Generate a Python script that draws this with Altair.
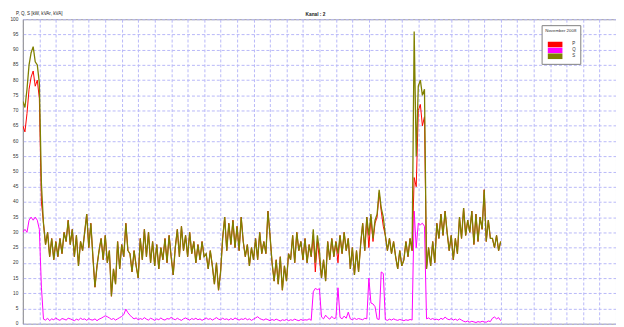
import altair as alt
import pandas as pd

# S (apparent power), sampled every 0.125 grid units
S = [73, 71, 77, 85, 89, 91, 86, 85, 79, 46,
     33, 26, 30, 22, 28,
     21, 27, 22, 28, 23,
     30, 27, 34, 26, 31,
     22, 29, 19, 27, 24,
     30, 36, 25, 33, 22,
     12, 19, 24,
     28, 21, 29, 20,
     24, 9, 18, 13,
     27, 18, 26,
     22, 33, 24,
     23, 17, 24, 19, 15,
     28, 21, 31, 22,
     30, 20, 27,
     19, 26, 18, 25, 21,
     28, 20, 29, 22,
     16, 25, 31, 22, 32, 24,
     29, 22, 30, 23, 27,
     20, 26, 21, 27, 22,
     23, 18, 24, 19,
     13, 20, 11, 17,
     28, 35, 24, 33,
     26, 34, 25, 32, 24, 35, 27,
     22, 26, 19, 25, 21,
     28, 21, 30, 23,
     27, 23, 37, 29,
     20, 14, 21, 13,
     22, 11, 19, 14, 23,
     21, 29, 20, 30, 24,
     27, 21, 28, 20, 26, 22,
     31, 20, 29, 24,
     15, 21, 14,
     27, 21, 28, 22, 27, 23,
     29, 23, 30, 24, 28,
     18, 25, 16, 24, 17, 26,
     33, 24, 35,
     29, 36, 28, 34,
     36, 44, 38, 35,
     29, 24, 28, 23, 27,
     22, 18, 24, 19, 21,
     27, 22, 28, 24,
     96, 55, 78, 80, 75, 77,
     18, 25, 19, 27, 20,
     33, 28, 36, 29, 37, 30,
     24, 29, 21, 28, 23,
     35, 28, 38, 29, 34,
     30, 37, 26, 36, 27, 35,
     31, 44,
     27, 34, 28,
     28, 25, 29, 24, 27]

P = [65, 63, 69, 77, 81, 83, 78, 80, 74, 40,
     33, 26, 30, 22, 28,
     21, 27, 22, 28, 23,
     30, 27, 34, 26, 31,
     22, 29, 19, 27, 24,
     30, 36, 25, 33, 22,
     12, 19, 24,
     28, 21, 29, 20,
     24, 9, 18, 13,
     27, 18, 26,
     22, 33, 24,
     23, 17, 24, 19, 15,
     28, 21, 31, 22,
     30, 20, 27,
     19, 26, 18, 25, 21,
     28, 20, 29, 22,
     16, 25, 31, 22, 32, 24,
     29, 22, 30, 23, 27,
     20, 26, 21, 27, 22,
     23, 18, 24, 19,
     13, 20, 11, 17,
     28, 35, 24, 33,
     26, 34, 25, 32, 24, 35, 27,
     22, 26, 19, 25, 21,
     28, 21, 30, 23,
     27, 23, 37, 29,
     20, 14, 21, 13,
     22, 11, 19, 14, 23,
     21, 29, 20, 30, 24,
     27, 21, 28, 20, 26, 22,
     29, 17, 27, 21,
     15, 21, 14,
     27, 21, 28, 22, 27, 20,
     29, 23, 30, 24, 28,
     18, 25, 16, 24, 17, 26,
     33, 24, 35,
     25, 35, 27, 33,
     35, 43, 37, 32,
     29, 24, 28, 23, 27,
     22, 18, 24, 19, 21,
     27, 22, 28, 24,
     48, 45, 70, 72, 65, 68,
     18, 25, 19, 27, 20,
     33, 28, 36, 29, 37, 30,
     24, 29, 21, 28, 23,
     35, 28, 38, 29, 34,
     30, 37, 26, 36, 27, 35,
     31, 44,
     27, 34, 28,
     28, 25, 29, 24, 27]

Q = [30, 31, 30, 34, 35, 34, 35, 34, 31, 12,
     1.5, 1.2, 1.8, 1.0, 1.6,
     1.3, 1.9, 1.4, 1.1, 1.7,
     1.5, 1.2, 1.8, 1.6, 1.3,
     1.0, 1.5, 1.2, 1.8, 1.4,
     1.6, 1.1, 1.7, 1.3, 1.2,
     1.6, 1.0, 1.5,
     1.8, 2.2, 2.6, 2.3,
     1.9, 1.4, 1.7, 1.2,
     1.6, 2.0, 2.4,
     3.0, 4.8, 3.6,
     2.8, 2.1, 1.6, 1.9, 1.3,
     1.7, 1.4, 2.0, 1.5,
     1.2, 1.8, 1.5,
     1.1, 1.6, 1.3, 1.9, 1.4,
     1.2, 1.7, 1.5, 2.1,
     1.6, 1.3, 1.8, 1.4, 1.1, 1.6,
     1.9, 1.5, 1.2, 1.7, 1.4,
     1.8, 1.3, 1.6, 1.1, 1.5,
     1.9, 1.4, 1.7, 1.2,
     1.6, 2.0, 1.5, 1.3,
     1.8, 1.4, 1.6, 1.2,
     1.7, 1.3, 1.9, 1.5, 1.2, 1.6, 1.4,
     1.8, 1.3, 1.6, 1.1, 1.5,
     1.9, 2.3, 1.7, 1.4,
     1.2, 1.6, 1.3, 1.0,
     1.4, 1.1, 1.5, 1.2,
     0.9, 1.3, 1.1, 1.4, 1.0,
     1.3, 1.1, 1.5, 1.2, 1.0,
     1.4, 1.1, 1.3, 1.2, 1.6, 1.1,
     10.5, 11.6, 11.2, 11.5,
     2.2, 1.6, 2.8,
     2.0, 1.5, 2.4, 1.7, 1.9, 11.8,
     2.1, 1.6, 2.5, 1.8, 3.8,
     1.6, 1.3, 1.8, 1.4, 1.7, 1.5,
     1.3, 1.8, 1.6,
     15.0, 6.8, 6.5, 5.6,
     1.6, 1.4, 17.0, 16.5,
     1.4, 1.1, 1.5, 1.2, 1.6,
     1.3, 1.1, 1.4, 1.2, 1.0,
     1.3, 1.1, 1.4, 1.2,
     37, 25, 33, 32.5, 33, 32,
     1.6, 1.9, 1.4, 1.7, 1.3,
     1.5, 1.2, 1.8, 1.4, 2.2, 1.6,
     1.3, 1.7, 1.2, 1.5, 1.1,
     1.6, 1.2, 0.8, 0.6, 0.9,
     0.5, 0.8, 0.6, 0.4, 0.7, 0.5,
     0.8, 0.6,
     0.5, 0.9, 0.7,
     1.8, 2.2, 1.6, 2.0, 1.0]

STEP = 0.125
t = [i * STEP for i in range(len(S))]

series_names = ["P", "Q", "S"]
series_colors = ["#ff0000", "#ff00ff", "#808000"]
y_ticks = list(range(0, 101, 5))
x_grid = list(range(0, 37))

rows = []
for name, vals in (("P", P), ("Q", Q), ("S", S)):
    for ti, v in zip(t, vals):
        rows.append({"t": ti, "v": v, "series": name})
df = pd.DataFrame(rows)

FONT = "Liberation Sans"

color = alt.Color(
    "series:N",
    scale=alt.Scale(domain=series_names, range=series_colors),
    legend=alt.Legend(
        title="November 2008",
        orient="none",
        legendX=523,
        legendY=6,
        symbolType="M-7,0H23",
        symbolSize=1,
        symbolStrokeWidth=6,
        symbolOpacity=1,
        clipHeight=6,
        labelFontSize=4.5,
        labelFont=FONT,
        titleFont=FONT,
        titleFontSize=4.4,
        titleFontWeight="normal",
        titleColor="#333333",
        labelColor="#333333",
        titleAnchor="end",
        rowPadding=0,
        padding=4,
        labelOffset=18,
        titlePadding=8,
        strokeColor="#808080",
        fillColor="white",
    ),
)

xenc = alt.X("t:Q", scale=alt.Scale(domain=[0, 36], nice=False),
             axis=alt.Axis(values=x_grid, labels=False, ticks=False,
                           domain=False, title=None, grid=True))
yenc = alt.Y("v:Q", scale=alt.Scale(domain=[0, 100], nice=False),
             axis=alt.Axis(values=y_ticks, title=None, ticks=False,
                           labelPadding=5, labelFontSize=4.8, labelFont=FONT,
                           labelColor="#333333", domainColor="#999999",
                           grid=True))


def line(name, width):
    return (alt.Chart(df)
            .transform_filter(alt.datum.series == name)
            .mark_line(strokeWidth=width, clip=True)
            .encode(x=xenc, y=yenc, color=color))


ylabel = pd.DataFrame({"label": ["P, Q, S [kW, kVAr, kVA]"]})
title_txt = pd.DataFrame({"label": ["Kanal : 2"]})

t1 = alt.Chart(ylabel).mark_text(align="left", baseline="middle", fontSize=4.6,
                                 font=FONT, color="#222222").encode(
    x=alt.value(-7), y=alt.value(-5), text="label:N")
t2 = alt.Chart(title_txt).mark_text(align="left", baseline="middle", fontSize=4.8,
                                    font=FONT, fontWeight="bold", color="#222222").encode(
    x=alt.value(285), y=alt.value(-4), text="label:N")

chart = alt.layer(line("Q", 1), line("P", 1), line("S", 1.3), t1, t2).properties(
    width=598, height=307,
    autosize=alt.AutoSizeParams(type="none"),
    padding={"left": 15, "top": 10, "right": 0, "bottom": 3},
).configure_view(
    stroke="#999999", strokeWidth=1
).configure_axis(
    gridColor="#b8b8f8", gridDash=[3, 2], gridWidth=1
)

chart.save("out.html", embed_options={"renderer": "svg", "actions": False})
